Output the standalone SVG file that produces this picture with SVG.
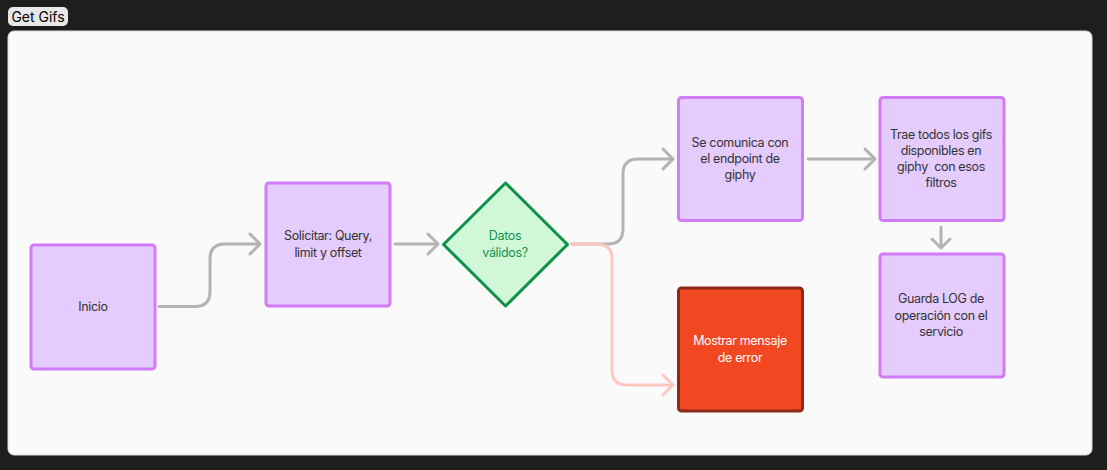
<svg xmlns="http://www.w3.org/2000/svg" width="1107" height="470" viewBox="0 0 1107 470">
<style>
.node{fill:#e4ccfe;stroke:#d27bf6;stroke-width:3}
.t{font-family:Inter,"Liberation Sans",sans-serif;font-size:12.5px;letter-spacing:-0.35px;fill:#333;text-anchor:middle}
.c{fill:none;stroke:#b3b3b3;stroke-width:3;stroke-linecap:round;stroke-linejoin:round}
.cp{fill:none;stroke:#ffc6c0;stroke-width:3;stroke-linecap:round;stroke-linejoin:round}
</style>
<rect x="0" y="0" width="1107" height="470" fill="#1e1e1e"/>
<g id="frame">
<rect x="8" y="31" width="1084" height="424" rx="6" fill="#fafafa" stroke="#d9d9d9" stroke-width="1"/>
<rect x="8" y="7" width="60" height="19" rx="5" fill="#e8e8e8"/>
<text x="38" y="22" font-family="Inter,'Liberation Sans',sans-serif" font-size="14" fill="#000" text-anchor="middle">Get Gifs</text>
</g>
<g id="connectors">
<path class="c" d="M159 306.5 H195 Q210 306.5 210 291.5 V259 Q210 244 225 244 H259"/>
<path class="c" d="M250 234 L260 244 L250 254"/>
<path class="c" d="M395 244 H437"/>
<path class="c" d="M428 234 L438 244 L428 254"/>
<path class="c" d="M572 244 H608 Q623 244 623 229 V174 Q623 159 638 159 H672"/>
<path class="c" d="M663 149 L673 159 L663 169"/>
<path class="cp" d="M572 244 H597 Q612 244 612 259 V370 Q612 385 627 385 H672"/>
<path class="cp" d="M663 375 L673 385 L663 395"/>
<path class="c" d="M808 159 H874"/>
<path class="c" d="M865 149 L875 159 L865 169"/>
<path class="c" d="M941 227 V247"/>
<path class="c" d="M932 239 L941 248 L950 239"/>
</g>
<g id="inicio">
<rect class="node" x="31" y="245" width="124" height="124" rx="3"/>
<text class="t" x="93" y="311">Inicio</text>
</g>
<g id="solicitar">
<rect class="node" x="266" y="183" width="124" height="123" rx="3"/>
<text class="t" x="328" y="240.4">Solicitar: Query,</text>
<text class="t" x="328" y="256.6">limit y offset</text>
</g>
<g id="datos">
<path d="M505.5 183 L567.5 244.5 L505.5 306 L443.5 244.5 Z" fill="#d0f7d8" stroke="#0f9149" stroke-width="3" stroke-linejoin="round"/>
<text class="t" x="505" y="240.4" style="fill:#11934c">Datos</text>
<text class="t" x="505" y="256.6" style="fill:#11934c">válidos?</text>
</g>
<g id="comunica">
<rect class="node" x="678.5" y="97.5" width="124" height="123" rx="3"/>
<text class="t" x="740" y="146.8">Se comunica con</text>
<text class="t" x="740" y="163">el endpoint de</text>
<text class="t" x="740" y="179.2">giphy</text>
</g>
<g id="trae">
<rect class="node" x="880" y="97.5" width="124" height="123" rx="3"/>
<text class="t" x="941" y="138.7">Trae todos los gifs</text>
<text class="t" x="941" y="154.9">disponibles en</text>
<text class="t" x="941" y="171.1" xml:space="preserve">giphy  con esos</text>
<text class="t" x="941" y="187.3">filtros</text>
</g>
<g id="guarda">
<rect class="node" x="880" y="254" width="124" height="123" rx="3"/>
<text class="t" x="941" y="303.3">Guarda LOG de</text>
<text class="t" x="941" y="319.5">operación con el</text>
<text class="t" x="941" y="335.7">servicio</text>
</g>
<g id="mostrar">
<rect x="678.5" y="288" width="124" height="123" rx="3" fill="#f24822" stroke="#8c2a1a" stroke-width="3"/>
<text class="t" x="740" y="345.4" style="fill:#fff">Mostrar mensaje</text>
<text class="t" x="740" y="361.6" style="fill:#fff">de error</text>
</g>
</svg>
